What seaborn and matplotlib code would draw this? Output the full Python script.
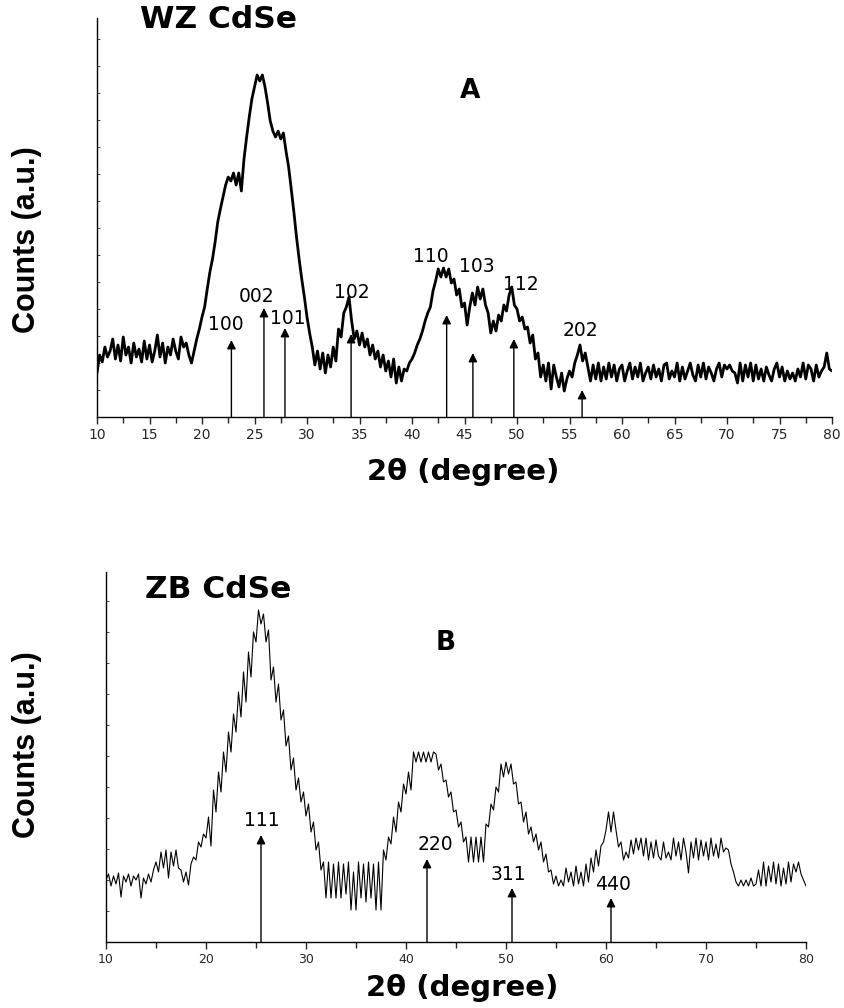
import numpy as np
import pandas as pd
import matplotlib
matplotlib.use('Agg')
import matplotlib.pyplot as plt
from matplotlib.ticker import MultipleLocator
import seaborn as sns

# XRD scans, step 0.25 deg, 10..80 (arbitrary counts)
two_theta = np.linspace(10, 80, 281)

wz_counts = [
    44, 62, 55, 70, 60, 66, 78, 58, 72, 56, 80, 62, 70, 54, 74, 60, 68, 55, 76, 58,
    72, 55, 66, 82, 60, 74, 54, 70, 62, 78, 66, 58, 80, 70, 74, 62, 54, 66, 78, 88,
    100, 110, 128, 145, 158, 175, 195, 208, 220, 232, 240, 236, 244, 232, 244, 226, 258, 280, 300, 318,
    330, 342, 336, 342, 330, 314, 296, 286, 280, 286, 278, 284, 266, 250, 228, 205, 180, 158, 138, 120,
    100, 84, 70, 52, 66, 48, 64, 44, 62, 50, 70, 56, 88, 80, 104, 110, 120, 96, 78, 86,
    72, 84, 70, 78, 62, 72, 58, 66, 50, 62, 46, 56, 40, 58, 34, 50, 36, 48, 46, 54,
    58, 64, 72, 78, 86, 96, 104, 110, 126, 136, 148, 140, 149, 140, 148, 134, 138, 122, 128, 110,
    114, 92, 110, 124, 112, 130, 118, 128, 112, 104, 84, 96, 86, 102, 96, 112, 106, 122, 130, 112,
    108, 96, 100, 88, 90, 74, 82, 58, 64, 40, 52, 36, 54, 28, 52, 40, 30, 44, 26, 38,
    46, 40, 54, 62, 72, 56, 64, 50, 36, 52, 38, 54, 36, 50, 38, 54, 40, 52, 36, 48,
    52, 36, 46, 54, 38, 50, 40, 54, 36, 44, 50, 38, 52, 40, 48, 36, 52, 54, 38, 46,
    40, 54, 36, 50, 38, 46, 54, 42, 36, 52, 40, 54, 38, 50, 44, 36, 48, 54, 40, 52,
    48, 52, 46, 44, 34, 54, 36, 52, 40, 54, 36, 52, 38, 48, 36, 50, 42, 36, 48, 54,
    40, 50, 36, 46, 38, 44, 36, 48, 40, 54, 38, 52, 48, 36, 52, 40, 46, 50, 64, 48,
    46,
]

zb_counts = [
    62, 68, 56, 66, 58, 69, 45, 66, 60, 68, 56, 66, 62, 68, 44, 64, 58, 68, 60, 72,
    80, 70, 90, 74, 92, 64, 90, 76, 92, 74, 72, 60, 70, 57, 78, 85, 82, 100, 95, 108,
    104, 125, 96, 152, 130, 170, 150, 190, 170, 210, 190, 228, 210, 250, 225, 270, 240, 290, 265, 310,
    300, 332, 318, 328, 300, 312, 262, 275, 240, 258, 222, 232, 196, 206, 172, 184, 152, 164, 140, 150,
    126, 138, 110, 120, 92, 100, 72, 80, 44, 80, 44, 78, 44, 80, 44, 78, 48, 80, 32, 70,
    32, 80, 44, 78, 40, 80, 44, 78, 32, 80, 32, 92, 82, 105, 98, 125, 110, 140, 130, 158,
    148, 170, 152, 190, 180, 190, 180, 190, 180, 190, 180, 190, 188, 172, 178, 160, 162, 145, 150, 130,
    132, 115, 120, 100, 105, 80, 105, 80, 105, 80, 105, 80, 118, 115, 138, 132, 155, 150, 178, 165,
    180, 168, 178, 158, 160, 138, 140, 120, 130, 108, 115, 100, 108, 92, 100, 80, 88, 70, 72, 58,
    66, 56, 62, 56, 74, 60, 70, 56, 76, 58, 70, 56, 78, 60, 84, 70, 92, 76, 96, 100,
    112, 130, 110, 130, 112, 95, 100, 82, 90, 84, 102, 88, 104, 92, 104, 86, 104, 82, 100, 84,
    102, 86, 82, 100, 84, 90, 82, 104, 86, 100, 82, 104, 90, 69, 100, 84, 104, 82, 102, 86,
    100, 82, 104, 86, 98, 84, 104, 90, 94, 92, 78, 70, 60, 56, 62, 56, 62, 56, 64, 56,
    58, 72, 56, 80, 56, 76, 60, 80, 58, 78, 56, 74, 58, 80, 60, 78, 70, 80, 68, 62,
    56,
]

# reflection markers
wz_hkl = ['100', '002', '101', '102', '110', '103', '112', '202']
wz_peak_pos = [22.8, 25.9, 27.9, 34.2, 43.3, 45.8, 49.7, 56.2]
wz_arrow_h = [77, 109, 89, 83, 102, 64, 78, 27]
wz_label_x = [22.3, 25.2, 28.2, 34.3, 41.8, 46.2, 50.4, 56.0]
wz_label_y = [92, 121, 99, 125, 160, 150, 133, 87]

zb_hkl = ['111', '220', '311', '440']
zb_peak_pos = [25.5, 42.1, 50.6, 60.5]
zb_arrow_h = [107, 83, 54, 44]
zb_label_x = [25.6, 42.9, 50.2, 60.7]
zb_label_y = [122, 98, 68, 57]

sns.set_style('ticks')
plt.rcParams['font.family'] = ['DejaVu Sans']

W, H = 844, 1008
fig = plt.figure(figsize=(W / 100, H / 100), dpi=100)


def fx(px):
    return px / W


def fy(py):
    return 1 - py / H


def draw_panel(ax, counts, lw, hkl, pos, arr_h, lx, ly, ymax, major, minor, tick_fs, ytick_step):
    df = pd.DataFrame({'two_theta': two_theta, 'counts': counts})
    sns.lineplot(data=df, x='two_theta', y='counts', ax=ax, color='black',
                 linewidth=lw, estimator=None, sort=False)
    for x, h in zip(pos, arr_h):
        ax.annotate('', xy=(x, h), xytext=(x, 0),
                    arrowprops=dict(arrowstyle='-|>', color='black', lw=1.0,
                                    mutation_scale=13, shrinkA=0, shrinkB=0))
    for t, x, y in zip(hkl, lx, ly):
        ax.text(x, y, t, ha='center', va='center', fontsize=13.5, color='black')
    ax.set_xlim(10, 80)
    ax.set_ylim(0, ymax)
    ax.xaxis.set_major_locator(MultipleLocator(major))
    ax.xaxis.set_minor_locator(MultipleLocator(minor))
    ax.yaxis.set_major_locator(MultipleLocator(ytick_step))
    ax.set_yticklabels([])
    ax.tick_params(axis='x', which='major', direction='out', length=5, width=1.0,
                   labelsize=tick_fs, pad=3)
    ax.tick_params(axis='x', which='minor', direction='out', length=4, width=1.0)
    ax.tick_params(axis='y', which='major', direction='in', length=2.5, width=0.6)
    ax.set_xlabel('')
    ax.set_ylabel('')
    for s in ['top', 'right']:
        ax.spines[s].set_visible(False)
    for s in ['left', 'bottom']:
        ax.spines[s].set_linewidth(1.0)
        ax.spines[s].set_color('black')


# (A) wurtzite
ax1 = fig.add_axes([fx(97), fy(417), fx(832) - fx(97), fy(18) - fy(417)])
draw_panel(ax1, wz_counts, 2.0, wz_hkl, wz_peak_pos, wz_arrow_h,
           wz_label_x, wz_label_y, 399, 5, 2.5, 10, 27)

# (B) zinc blende
ax2 = fig.add_axes([fx(106), fy(942), fx(806) - fx(106), fy(572) - fy(942)])
draw_panel(ax2, zb_counts, 0.8, zb_hkl, zb_peak_pos, zb_arrow_h,
           zb_label_x, zb_label_y, 370, 10, 5, 9, 31)

bold = dict(fontweight='bold', color='black')
fig.text(fx(140), fy(20), 'WZ CdSe', ha='left', va='center', fontsize=22.5, **bold)
fig.text(fx(470), fy(91), 'A', ha='center', va='center', fontsize=19, **bold)
fig.text(fx(463), fy(472), '2θ (degree)', ha='center', va='center', fontsize=21, **bold)
fig.text(fx(27), fy(240), 'Counts (a.u.)', ha='center', va='center', rotation=90,
         fontsize=22, family=['Liberation Sans', 'DejaVu Sans'], **bold)

fig.text(fx(145), fy(590), 'ZB CdSe', ha='left', va='center', fontsize=22.5, **bold)
fig.text(fx(446), fy(643), 'B', ha='center', va='center', fontsize=19, **bold)
fig.text(fx(462), fy(988), '2θ (degree)', ha='center', va='center', fontsize=21, **bold)
fig.text(fx(27), fy(745), 'Counts (a.u.)', ha='center', va='center', rotation=90,
         fontsize=22, family=['Liberation Sans', 'DejaVu Sans'], **bold)

fig.savefig('out.png', dpi=100)
